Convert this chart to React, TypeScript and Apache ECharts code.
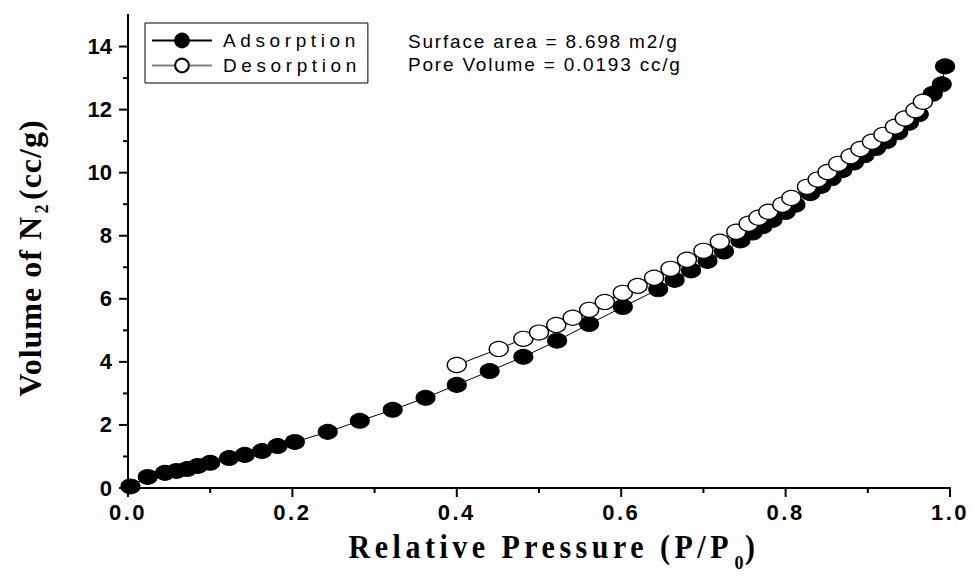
import React, { useEffect, useRef } from "react";
import * as echarts from "echarts";

// ---------- data ----------
const adsorptionP = [0.003, 0.024, 0.045, 0.059, 0.072, 0.085, 0.1, 0.123, 0.142, 0.163, 0.182, 0.203, 0.243, 0.282, 0.322, 0.362, 0.4, 0.44, 0.481, 0.522, 0.561, 0.602, 0.645, 0.665, 0.685, 0.705, 0.725, 0.745, 0.76, 0.772, 0.784, 0.8, 0.812, 0.83, 0.843, 0.856, 0.869, 0.883, 0.896, 0.91, 0.923, 0.937, 0.95, 0.962, 0.979, 0.99, 0.994];
const adsorptionV = [0.05, 0.35, 0.48, 0.54, 0.6, 0.7, 0.8, 0.95, 1.05, 1.17, 1.33, 1.46, 1.78, 2.13, 2.48, 2.86, 3.27, 3.71, 4.16, 4.67, 5.2, 5.74, 6.3, 6.6, 6.9, 7.2, 7.5, 7.85, 8.1, 8.3, 8.5, 8.75, 8.98, 9.35, 9.58, 9.82, 10.08, 10.32, 10.55, 10.78, 11.0, 11.28, 11.58, 11.85, 12.5, 12.8, 13.37];

const desorptionP = [0.4, 0.451, 0.481, 0.5, 0.521, 0.541, 0.561, 0.58, 0.602, 0.62, 0.64, 0.66, 0.68, 0.7, 0.72, 0.74, 0.755, 0.767, 0.779, 0.796, 0.807, 0.826, 0.839, 0.851, 0.864, 0.879, 0.891, 0.905, 0.919, 0.933, 0.945, 0.958, 0.967];
const desorptionV = [3.9, 4.41, 4.73, 4.93, 5.17, 5.4, 5.65, 5.9, 6.19, 6.41, 6.67, 6.95, 7.24, 7.52, 7.81, 8.13, 8.38, 8.57, 8.76, 8.98, 9.2, 9.55, 9.78, 10.02, 10.28, 10.52, 10.75, 10.98, 11.2, 11.46, 11.72, 11.98, 12.25];

const xTickLabels = ["0.0", "0.2", "0.4", "0.6", "0.8", "1.0"];
const xMajorTicks = [0, 0.2, 0.4, 0.6, 0.8, 1.0];
const xMinorTicks = [0.1, 0.3, 0.5, 0.7, 0.9];
const yMajorTicks = [0, 2, 4, 6, 8, 10, 12, 14];
const yMinorTicks = [1, 3, 5, 7, 9, 11, 13];
const seriesNames = ["Adsorption", "Desorption"];
const annotationLines = ["Surface area = 8.698 m2/g", "Pore Volume = 0.0193 cc/g"];
const xTitle = ["Relative Pressure (P/P", "0", ")"];
const yTitle = ["Volume of N", "2", "(cc/g)"];

const SANS = "'Liberation Sans', Arial, sans-serif";
const SERIF = "'Liberation Serif', 'Times New Roman', serif";

const SPACING: Record<string, number> = {
  [seriesNames[0]]: 4.6,
  [seriesNames[1]]: 4.6,
  [annotationLines[0]]: 1.8,
  [annotationLines[1]]: 1.8,
  [xTitle[0]]: 4.5,
  [yTitle[0]]: 1,
  [yTitle[2]]: 1,
};
xTickLabels.forEach((t) => (SPACING[t] = 2.5));

export default function App() {
  const ref = useRef<HTMLDivElement>(null);

  useEffect(() => {
    const el = ref.current!;
    const chart = echarts.init(el, undefined, { renderer: "svg" });

    const pairs = (p: number[], v: number[]) => p.map((x, i) => [x, v[i]]);
    const lbl = () => ({ fontFamily: SANS, fontWeight: "bold" as const, fontSize: 22, color: "#000" });
    const axLine = () => ({ show: true, lineStyle: { color: "#000", width: 2 } });
    const noLabel = { show: false };
    const noSplit = { show: false };
    const noTick = { show: false };

    const baseGraphic: any[] = [
      { type: "text", x: 408, y: 41, style: { text: annotationLines[0], fontFamily: SANS, fontSize: 19, fill: "#000", textAlign: "left", textVerticalAlign: "middle" } },
      { type: "text", x: 408, y: 64, style: { text: annotationLines[1], fontFamily: SANS, fontSize: 19, fill: "#000", textAlign: "left", textVerticalAlign: "middle" } },
      // x title
      { type: "text", x: 733, y: 547, scaleY: 1.12, style: { text: xTitle[0], fontFamily: SERIF, fontWeight: "bold", fontSize: 30, fill: "#000", textAlign: "right", textVerticalAlign: "middle" } },
      { type: "text", x: 739, y: 563, style: { text: xTitle[1], fontFamily: SERIF, fontWeight: "bold", fontSize: 18, fill: "#000", textAlign: "center", textVerticalAlign: "middle" } },
      { type: "text", x: 745, y: 547, scaleY: 1.12, style: { text: xTitle[2], fontFamily: SERIF, fontWeight: "bold", fontSize: 30, fill: "#000", textAlign: "left", textVerticalAlign: "middle" } },
      // y title
      { type: "text", x: 30, y: 216, rotation: Math.PI / 2, style: { text: yTitle[0], fontFamily: SERIF, fontWeight: "bold", fontSize: 32, fill: "#000", textAlign: "right", textVerticalAlign: "middle" } },
      { type: "text", x: 42, y: 209, rotation: Math.PI / 2, style: { text: yTitle[1], fontFamily: SERIF, fontWeight: "bold", fontSize: 18, fill: "#000", textAlign: "center", textVerticalAlign: "middle" } },
      { type: "text", x: 30, y: 200, rotation: Math.PI / 2, style: { text: yTitle[2], fontFamily: SERIF, fontWeight: "bold", fontSize: 32, fill: "#000", textAlign: "left", textVerticalAlign: "middle" } },
    ];

    const option: any = {
      animation: false,
      backgroundColor: "#fff",
      grid: { left: 128, right: 22, top: 15, bottom: 89 },
      xAxis: [
        {
          type: "value", min: 0, max: 1, interval: 0.2, position: "bottom",
          axisLine: axLine(), axisTick: noTick, minorTick: { show: false },
          axisLabel: { ...lbl(), margin: 13, formatter: (v: number) => v.toFixed(1) },
          splitLine: noSplit, minorSplitLine: { show: false },
        },
        {
          type: "value", min: 0, max: 1, position: "top",
          axisLine: axLine(), axisTick: noTick, axisLabel: noLabel, splitLine: noSplit,
        },
      ],
      yAxis: [
        {
          type: "value", min: 0, max: 15, interval: 2, position: "left",
          axisLine: axLine(), axisTick: noTick,
          axisLabel: { ...lbl(), margin: 16, showMaxLabel: false, formatter: (v: number) => String(v) },
          splitLine: noSplit,
        },
        {
          type: "value", min: 0, max: 15, position: "right",
          axisLine: axLine(), axisTick: noTick, axisLabel: noLabel, splitLine: noSplit,
        },
      ],
      legend: {
        show: true, orient: "vertical", left: 145, top: 23,
        padding: [8, 53, 8, 6], itemGap: 6, itemWidth: 60, itemHeight: 17,
        borderColor: "#000", borderWidth: 1, backgroundColor: "#fff",
        textStyle: { fontFamily: SANS, fontSize: 19, color: "#000", padding: [0, 0, 0, 6] },
        data: [
          { name: seriesNames[0] },
          { name: seriesNames[1], lineStyle: { color: "#808080" } },
        ],
      },
      series: [
        {
          type: "line", name: seriesNames[0], data: pairs(adsorptionP, adsorptionV),
          xAxisIndex: 0, yAxisIndex: 0,
          symbol: "circle", symbolSize: [19, 15], showAllSymbol: true,
          lineStyle: { color: "#000", width: 1 },
          itemStyle: { color: "#000", borderColor: "#000", borderWidth: 1 },
          z: 2,
        },
        {
          type: "line", name: seriesNames[1], data: pairs(desorptionP, desorptionV),
          xAxisIndex: 0, yAxisIndex: 0,
          symbol: "circle", symbolSize: [19, 15], showAllSymbol: true,
          lineStyle: { color: "#000", width: 1 },
          itemStyle: { color: "#fff", borderColor: "#000", borderWidth: 1.3 },
          z: 3,
        },
      ],
      graphic: baseGraphic,
    };

    chart.setOption(option);

    // outward tick marks, positioned through the axes' own scales
    const xPix = (v: number) => chart.convertToPixel({ xAxisIndex: 0 }, v) as number;
    const yPix = (v: number) => chart.convertToPixel({ yAxisIndex: 0 }, v) as number;
    const yBase = yPix(0);
    const xBase = xPix(0);
    const tickStyle = { stroke: "#000", lineWidth: 2 };
    const ticks: any[] = [];
    xMajorTicks.forEach((v) => { const p = xPix(v); ticks.push({ type: "line", shape: { x1: p, y1: yBase, x2: p, y2: yBase + 9 }, style: tickStyle }); });
    xMinorTicks.forEach((v) => { const p = xPix(v); ticks.push({ type: "line", shape: { x1: p, y1: yBase, x2: p, y2: yBase + 5 }, style: tickStyle }); });
    yMajorTicks.forEach((v) => { const p = yPix(v); ticks.push({ type: "line", shape: { x1: xBase - 9, y1: p, x2: xBase, y2: p }, style: tickStyle }); });
    yMinorTicks.forEach((v) => { const p = yPix(v); ticks.push({ type: "line", shape: { x1: xBase - 5, y1: p, x2: xBase, y2: p }, style: tickStyle }); });
    chart.setOption({ graphic: [...baseGraphic, ...ticks] });

    const applySpacing = () => {
      el.querySelectorAll("text").forEach((t) => {
        const s = (t.textContent || "").trim();
        const sp = SPACING[s];
        if (sp != null) t.setAttribute("letter-spacing", String(sp));
      });
    };
    applySpacing();
    chart.on("finished", applySpacing);
    const raf = requestAnimationFrame(applySpacing);

    return () => {
      cancelAnimationFrame(raf);
      chart.dispose();
    };
  }, []);

  return <div ref={ref} style={{ width: 972, height: 577, position: "absolute", left: 0, top: 0 }} />;
}
